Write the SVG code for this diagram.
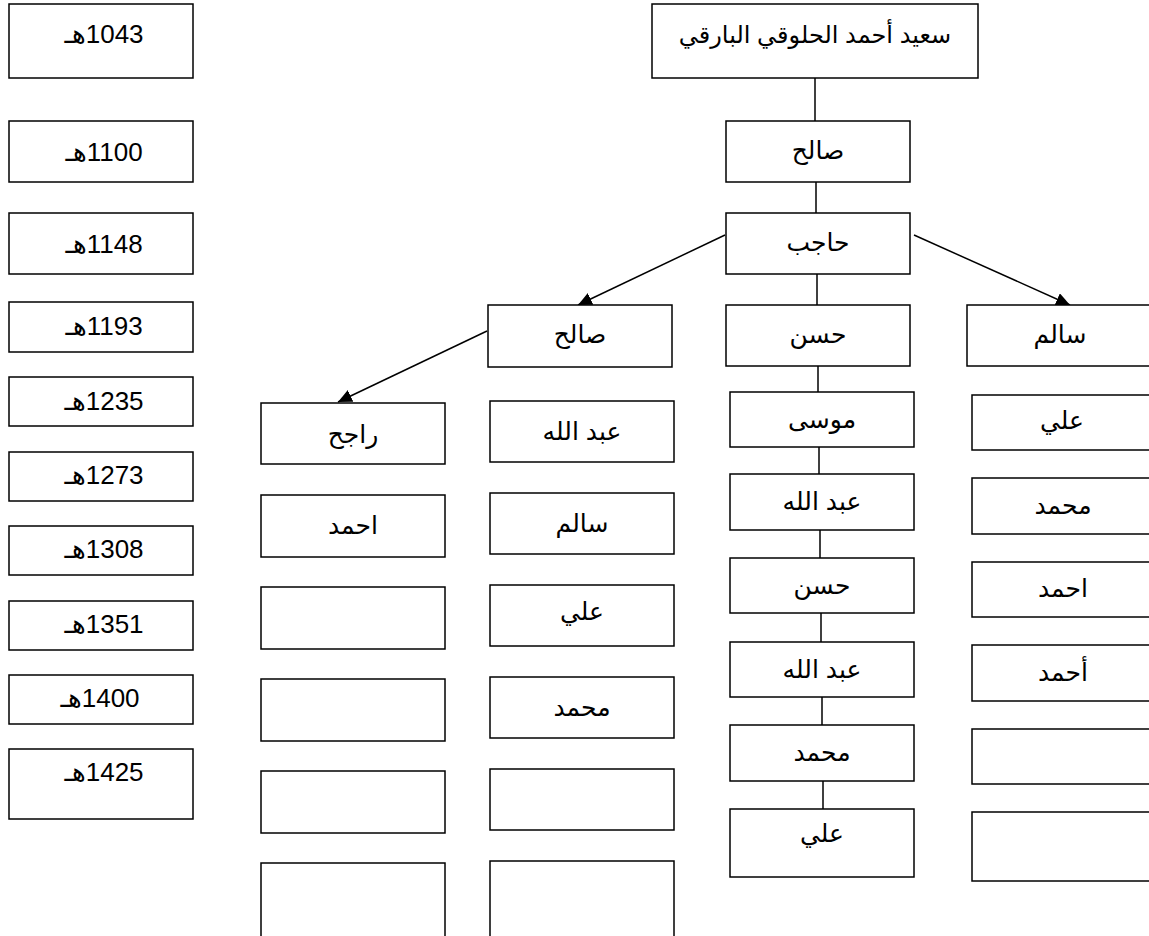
<svg xmlns="http://www.w3.org/2000/svg" width="1149" height="936" viewBox="0 0 1149 936">
<style>
rect{fill:#fff;stroke:#000;stroke-width:1.5}
text{font-family:"Liberation Sans","DejaVu Sans",sans-serif;font-size:25px;fill:#000;text-anchor:middle}
.yr{font-size:26px}
.c line{stroke:#000;stroke-width:1.5}
</style>
<defs>
<marker id="ah" markerUnits="userSpaceOnUse" viewBox="0 0 14 13" refX="14" refY="6.5" markerWidth="14" markerHeight="13" orient="auto">
<path d="M0,0 L14,6.5 L0,13 z" fill="#000"/>
</marker>
</defs>
<rect x="0" y="0" width="1149" height="936" style="stroke:none"/>
<g id="years">
<g id="y1043"><rect x="9" y="4" width="184" height="74"/><text class="yr" x="104" y="43" direction="rtl">1043هـ</text></g>
<g id="y1100"><rect x="9" y="121" width="184" height="61"/><text class="yr" x="104" y="161" direction="rtl">1100هـ</text></g>
<g id="y1148"><rect x="9" y="213" width="184" height="61"/><text class="yr" x="104" y="253" direction="rtl">1148هـ</text></g>
<g id="y1193"><rect x="9" y="302" width="184" height="50"/><text class="yr" x="104" y="335" direction="rtl">1193هـ</text></g>
<g id="y1235"><rect x="9" y="377" width="184" height="49"/><text class="yr" x="104" y="410" direction="rtl">1235هـ</text></g>
<g id="y1273"><rect x="9" y="452" width="184" height="49"/><text class="yr" x="104" y="484" direction="rtl">1273هـ</text></g>
<g id="y1308"><rect x="9" y="526" width="184" height="49"/><text class="yr" x="104" y="558" direction="rtl">1308هـ</text></g>
<g id="y1351"><rect x="9" y="601" width="184" height="49"/><text class="yr" x="104" y="633" direction="rtl">1351هـ</text></g>
<g id="y1400"><rect x="9" y="675" width="184" height="49"/><text class="yr" x="100" y="707" direction="rtl">1400هـ</text></g>
<g id="y1425"><rect x="9" y="749" width="184" height="70"/><text class="yr" x="104" y="781" direction="rtl">1425هـ</text></g>
</g>
<g class="c" id="connectors">
<line x1="815" y1="78" x2="815" y2="121"/>
<line x1="816" y1="182" x2="816" y2="213"/>
<line x1="817" y1="274" x2="817" y2="305"/>
<line x1="818" y1="366" x2="818" y2="392"/>
<line x1="819" y1="447" x2="819" y2="474"/>
<line x1="820" y1="530" x2="820" y2="558"/>
<line x1="821" y1="613" x2="821" y2="642"/>
<line x1="822" y1="697" x2="822" y2="725"/>
<line x1="823" y1="781" x2="823" y2="809"/>
<line x1="725" y1="235" x2="578" y2="305" marker-end="url(#ah)"/>
<line x1="914" y1="235" x2="1070" y2="305" marker-end="url(#ah)"/>
<line x1="487" y1="331" x2="338" y2="402" marker-end="url(#ah)"/>
</g>
<g id="n-root"><rect x="652" y="4" width="326" height="74"/><text x="815" y="43" direction="rtl" style="font-size:24px">سعيد أحمد الحلوقي البارقي</text></g>
<g id="n-salih1"><rect x="726" y="121" width="184" height="61"/><text x="818" y="159" direction="rtl">صالح</text></g>
<g id="n-hajib"><rect x="726" y="213" width="184" height="61"/><text x="818" y="251" direction="rtl">حاجب</text></g>
<g id="n-hasan1"><rect x="726" y="305" width="184" height="61"/><text x="818" y="343" direction="rtl">حسن</text></g>
<g id="n-salim1"><rect x="967" y="305" width="186" height="61"/><text x="1060" y="343" direction="rtl">سالم</text></g>
<g id="n-salih2"><rect x="488" y="305" width="184" height="62"/><text x="580" y="343" direction="rtl">صالح</text></g>
<g id="c2-1"><rect x="730" y="392" width="184" height="55"/><text x="822" y="428" direction="rtl">موسى</text></g>
<g id="c2-2"><rect x="730" y="474" width="184" height="56"/><text x="822" y="510" direction="rtl">عبد الله</text></g>
<g id="c2-3"><rect x="730" y="558" width="184" height="55"/><text x="822" y="594" direction="rtl">حسن</text></g>
<g id="c2-4"><rect x="730" y="642" width="184" height="55"/><text x="822" y="678" direction="rtl">عبد الله</text></g>
<g id="c2-5"><rect x="730" y="725" width="184" height="56"/><text x="822" y="761" direction="rtl">محمد</text></g>
<g id="c2-6"><rect x="730" y="809" width="184" height="68"/><text x="822" y="842" direction="rtl">علي</text></g>
<g id="c1-1"><rect x="972" y="395" width="184" height="55"/><text x="1062" y="429" direction="rtl">علي</text></g>
<g id="c1-2"><rect x="972" y="478" width="184" height="56"/><text x="1063" y="514" direction="rtl">محمد</text></g>
<g id="c1-3"><rect x="972" y="562" width="184" height="55"/><text x="1063" y="597" direction="rtl">احمد</text></g>
<g id="c1-4"><rect x="972" y="645" width="184" height="56"/><text x="1063" y="681" direction="rtl">أحمد</text></g>
<g id="c1-5"><rect x="972" y="729" width="184" height="55"/></g>
<g id="c1-6"><rect x="972" y="812" width="184" height="69"/></g>
<g id="c3-1"><rect x="490" y="401" width="184" height="61"/><text x="582" y="440" direction="rtl">عبد الله</text></g>
<g id="c3-2"><rect x="490" y="493" width="184" height="61"/><text x="582" y="532" direction="rtl">سالم</text></g>
<g id="c3-3"><rect x="490" y="585" width="184" height="61"/><text x="582" y="620" direction="rtl">علي</text></g>
<g id="c3-4"><rect x="490" y="677" width="184" height="61"/><text x="582" y="716" direction="rtl">محمد</text></g>
<g id="c3-5"><rect x="490" y="769" width="184" height="61"/></g>
<g id="c3-6"><rect x="490" y="861" width="184" height="85"/></g>
<g id="c4-1"><rect x="261" y="403" width="184" height="61"/><text x="353" y="443" direction="rtl">راجح</text></g>
<g id="c4-2"><rect x="261" y="495" width="184" height="62"/><text x="353" y="534" direction="rtl">احمد</text></g>
<g id="c4-3"><rect x="261" y="587" width="184" height="62"/></g>
<g id="c4-4"><rect x="261" y="679" width="184" height="62"/></g>
<g id="c4-5"><rect x="261" y="771" width="184" height="62"/></g>
<g id="c4-6"><rect x="261" y="863" width="184" height="83"/></g>
</svg>
